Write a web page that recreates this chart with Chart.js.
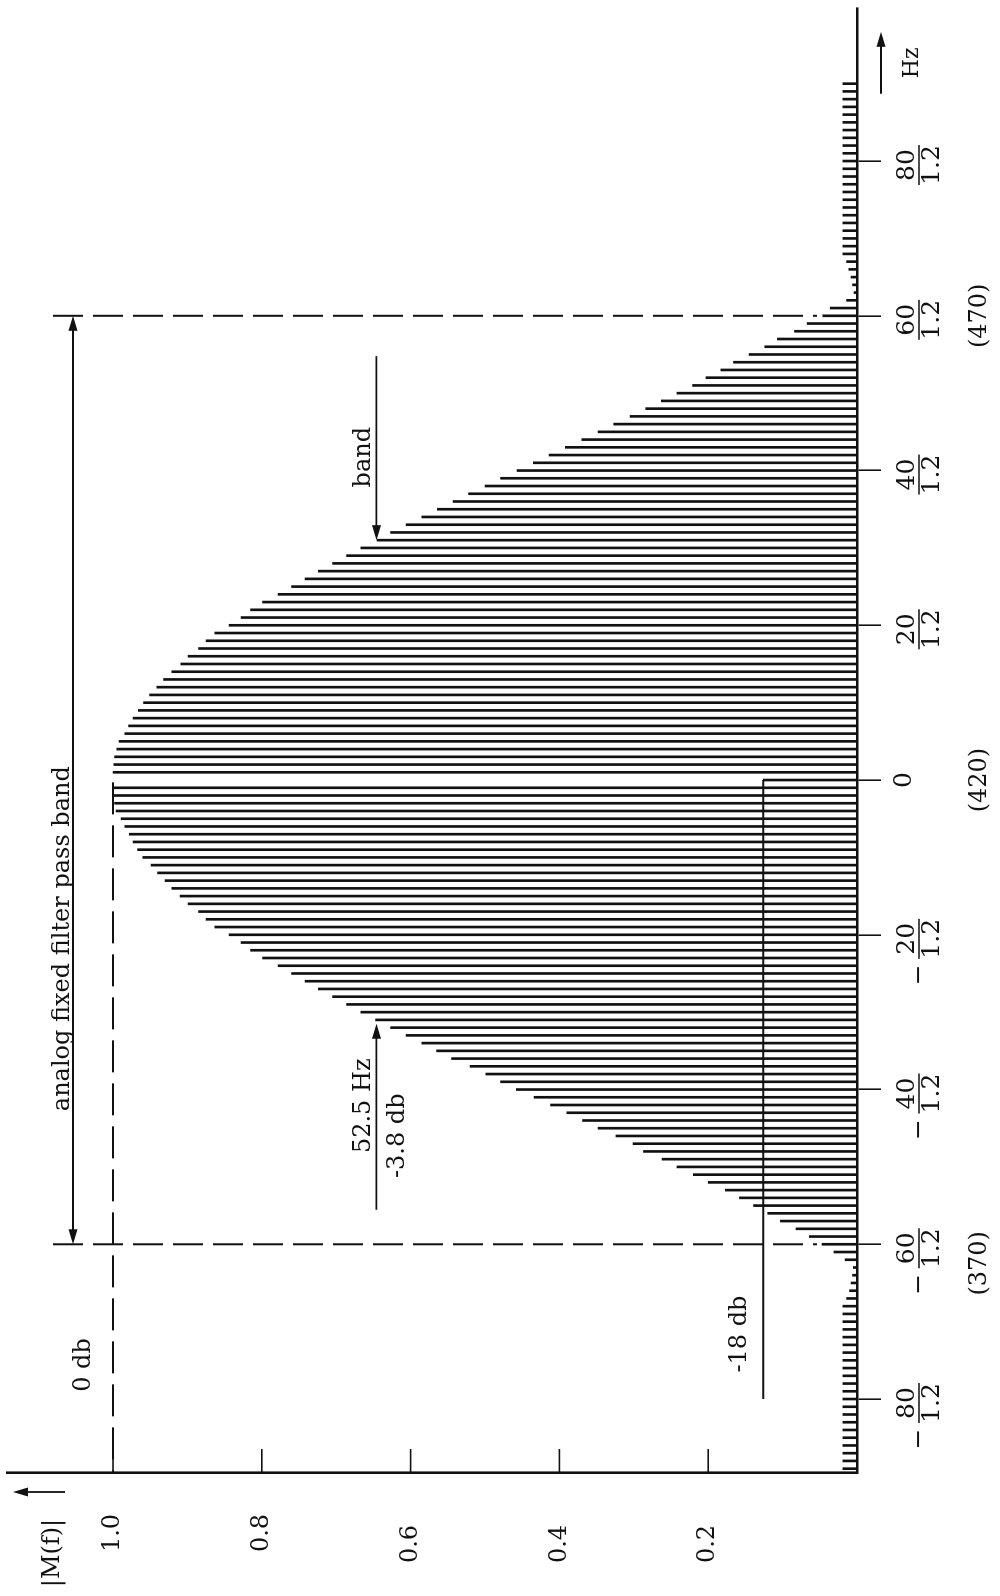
<!DOCTYPE html>
<html><head><meta charset="utf-8">
<script src="https://cdn.jsdelivr.net/npm/chart.js@4.4.1/dist/chart.umd.min.js"></script>
<style>
html,body{margin:0;padding:0;background:#fff;overflow:hidden;width:1000px;height:1596px;}
#wrap{position:absolute;left:0;top:0;width:1596px;height:1000px;transform-origin:0 0;transform:translateY(1596px) rotate(-90deg);}
canvas{display:block;background:#fff;}
</style></head><body>
<div id="wrap"><canvas id="c" width="1596" height="1000" style="width:1596px;height:1000px"></canvas></div>
<script>
// Spectral line index k (frequency = k / 1.2 Hz relative to 420 Hz)
const lineIndex = [
 -89,-88,-87,-86,-85,-84,-83,-82,-81,-80,
 -79,-78,-77,-76,-75,-74,-73,-72,-71,-70,
 -69,-68,-67,-66,-65,-64,-63,-62,-61,-60,
 -59,-58,-57,-56,-55,-54,-53,-52,-51,-50,
 -49,-48,-47,-46,-45,-44,-43,-42,-41,-40,
 -39,-38,-37,-36,-35,-34,-33,-32,-31,-30,
 -29,-28,-27,-26,-25,-24,-23,-22,-21,-20,
 -19,-18,-17,-16,-15,-14,-13,-12,-11,-10,
 -9,-8,-7,-6,-5,-4,-3,-2,-1,0,
 1,2,3,4,5,6,7,8,9,10,
 11,12,13,14,15,16,17,18,19,20,
 21,22,23,24,25,26,27,28,29,30,
 31,32,33,34,35,36,37,38,39,40,
 41,42,43,44,45,46,47,48,49,50,
 51,52,53,54,55,56,57,58,59,60,
 61,62,63,64,65,66,67,68,69,70,
 71,72,73,74,75,76,77,78,79,80,
 81,82,83,84,85,86,87,88,89,90
];
// |M(f)| of each line
const magnitude = [
 0.019,0.019,0.019,0.019,0.019,0.019,0.019,0.019,0.019,0.019,
 0.019,0.019,0.019,0.019,0.019,0.019,0.019,0.019,0.019,0.019,
 0.019,0.019,0.014,0.010,0.008,0.006,0.005,0.016,0.031,0.047,
 0.064,0.082,0.103,0.120,0.139,0.158,0.177,0.200,0.220,0.242,
 0.262,0.287,0.301,0.324,0.348,0.369,0.390,0.412,0.434,0.458,
 0.479,0.499,0.520,0.545,0.565,0.585,0.606,0.627,0.647,0.667,
 0.686,0.705,0.724,0.742,0.760,0.778,0.799,0.815,0.828,0.844,
 0.863,0.875,0.885,0.899,0.910,0.921,0.930,0.940,0.949,0.960,
 0.967,0.973,0.978,0.984,0.989,0.996,0.998,1.000,1.000,0.126,
 1.000,0.999,0.998,0.995,0.992,0.984,0.979,0.973,0.966,0.959,
 0.951,0.941,0.932,0.921,0.909,0.899,0.885,0.875,0.863,0.844,
 0.828,0.815,0.799,0.778,0.760,0.742,0.724,0.705,0.686,0.667,
 0.645,0.627,0.606,0.585,0.564,0.543,0.522,0.500,0.479,0.457,
 0.435,0.414,0.392,0.370,0.348,0.327,0.305,0.284,0.263,0.242,
 0.221,0.203,0.183,0.166,0.145,0.124,0.107,0.084,0.067,0.046,
 0.036,0.014,0.004,0.006,0.008,0.011,0.014,0.019,0.019,0.019,
 0.019,0.019,0.019,0.019,0.019,0.019,0.019,0.019,0.019,0.019,
 0.019,0.019,0.019,0.019,0.019,0.019,0.019,0.019,0.019,0.019
];
// frequency axis ticks (in units of 1/1.2 Hz)
const freqTicks = [-80,-60,-40,-20,0,20,40,60,80];
const freqTickNumer = ['80','60','40','20','0','20','40','60','80'];
const freqTickDenom = '1.2';
const hzTicks = [-60,0,60];
const hzTickLabels = ['(370)','(420)','(470)'];
// amplitude axis ticks
const ampTicks = [0.2,0.4,0.6,0.8,1.0];
const ampTickLabels = ['0.2','0.4','0.6','0.8','1.0'];
// annotation values
const passBandEdges = [-60,60];
const bandUpperK = 31, bandLowerK = -31.5;
const bandLevel = 0.646;  // -3.8 db
const dcLevel = 0.126;    // -18 db
const zeroDbLevel = 1.0;

const ink = '#111';
const F = '"DejaVu Serif", serif';

function seg(ctx,x1,y1,x2,y2,w,dash){ctx.beginPath();ctx.lineWidth=w;ctx.setLineDash(dash||[]);ctx.moveTo(x1,y1);ctx.lineTo(x2,y2);ctx.stroke();ctx.setLineDash([]);}
function head(ctx,x,y,dx,dy){const L=15,W=4.5;const bx=x-dx*L,by=y-dy*L;const px=-dy,py=dx;ctx.beginPath();ctx.moveTo(x,y);ctx.lineTo(bx+px*W,by+py*W);ctx.lineTo(bx-px*W,by-py*W);ctx.closePath();ctx.fill();}
function txt(ctx,s,x,y,size,align,base){
  ctx.font=size+'px '+F; ctx.textBaseline=base||'middle'; ctx.textAlign='left';
  const w=ctx.measureText(s).width; const a=align||'center';
  const x0 = a==='center' ? x-w/2 : (a==='right' ? x-w : x);
  ctx.fillText(s,x0,y);
}

const annot = {
  id:'annot',
  afterDraw(chart){
    const ctx=chart.ctx, xs=chart.scales.x, ys=chart.scales.y, ca=chart.chartArea;
    const X=v=>xs.getPixelForValue(v), Y=v=>ys.getPixelForValue(v);
    ctx.save(); ctx.strokeStyle=ink; ctx.fillStyle=ink;
    // amplitude ticks (inward) and labels
    const labelPos=[52,52,52,63,63];
    ampTicks.forEach((v,i)=>{const y=Y(v); seg(ctx,ca.left,y,ca.left+24,y,1.6); txt(ctx,ampTickLabels[i],labelPos[i],y,24);});
    // |M(f)| label + arrow
    txt(ctx,'|M(f)|',43,53,24);
    seg(ctx,ca.left-19,65,ca.left-19,26,1.8); head(ctx,ca.left-19,13,0,-1);
    // frequency tick labels as fractions
    const b=ca.bottom;
    freqTicks.forEach((k,i)=>{
      const x=X(k);
      if(k===0){ txt(ctx,'0',x,b+47,25); return; }
      const cx=x-4;
      txt(ctx,freqTickNumer[i],cx,b+50,25);
      seg(ctx,cx-20,b+62,cx+20,b+62,1.6);
      txt(ctx,freqTickDenom,cx,b+75,25);
      if(k<0){ txt(ctx,'\u2212',x-40,b+62,25); }
    });
    hzTicks.forEach((k,i)=>{ const x=X(k)+(k<0?-19:0); txt(ctx,hzTickLabels[i],x,b+123,24); });
    // Hz arrow
    seg(ctx,X(88.7),b+24,X(95),b+24,1.8); head(ctx,X(96.7),b+24,1,0);
    txt(ctx,'Hz',X(92.7),b+55,22);
    // pass band edges (dashed) and double arrow
    passBandEdges.forEach(k=>{ seg(ctx,X(k),53,X(k),b-40,2,[30,10]); });
    seg(ctx,X(-60)+8,73,X(60)-8,73,1.8); head(ctx,X(-60),73,-1,0); head(ctx,X(60),73,1,0);
    txt(ctx,'analog fixed filter pass band',X(-20.5),69,24,'center','alphabetic');
    // 0 db dashed line
    seg(ctx,X(-0.3),Y(zeroDbLevel),ca.left,Y(zeroDbLevel),2,[32,11]);
    txt(ctx,'0 db',X(-75.6),Y(zeroDbLevel)-29,24);
    // -18 db line
    seg(ctx,X(-80),Y(dcLevel),X(0),Y(dcLevel),2);
    txt(ctx,'-18 db',X(-71.6),Y(dcLevel)-23,24);
    // band arrow (upper edge)
    const yb=Y(bandLevel);
    seg(ctx,X(bandUpperK)+184,yb,X(bandUpperK)+10,yb,1.8); head(ctx,X(bandUpperK),yb,-1,0);
    txt(ctx,'band',X(bandUpperK)+83,yb-6,24,'center','alphabetic');
    // lower edge arrow with labels
    seg(ctx,X(bandLowerK)-186,yb,X(bandLowerK)-10,yb,1.8); head(ctx,X(bandLowerK),yb,1,0);
    txt(ctx,'52.5 Hz',X(bandLowerK)-82,yb-6,24,'center','alphabetic');
    txt(ctx,'-3.8 db',X(bandLowerK)-112,yb+21,24);
    ctx.restore();
  }
};

new Chart(document.getElementById('c'),{
  type:'bar',
  data:{datasets:[{data:lineIndex.map((k,i)=>({x:k,y:magnitude[i]})),backgroundColor:ink,borderWidth:0,barThickness:2,grouped:false}]},
  options:{
    responsive:false, animation:false, devicePixelRatio:1,
    layout:{padding:{top:7,right:8,left:0,bottom:0}},
    plugins:{legend:{display:false},tooltip:{enabled:false}},
    scales:{
      x:{type:'linear',min:-89.56,max:99.78,offset:false,
        afterBuildTicks:s=>{s.ticks=freqTicks.map(v=>({value:v}));},
        afterFit:s=>{s.height=143;},
        ticks:{display:false},
        grid:{display:true,offset:false,drawOnChartArea:false,drawTicks:true,tickLength:24,color:ink,lineWidth:1.6},
        border:{display:true,color:ink,width:2.6}},
      y:{type:'linear',min:0,max:1.1425,
        afterBuildTicks:s=>{s.ticks=ampTicks.map(v=>({value:v}));},
        afterFit:s=>{s.width=123;},
        ticks:{display:false},
        grid:{display:false},
        border:{display:true,color:ink,width:2.6}}
    }
  },
  plugins:[annot]
});
</script></body></html>
